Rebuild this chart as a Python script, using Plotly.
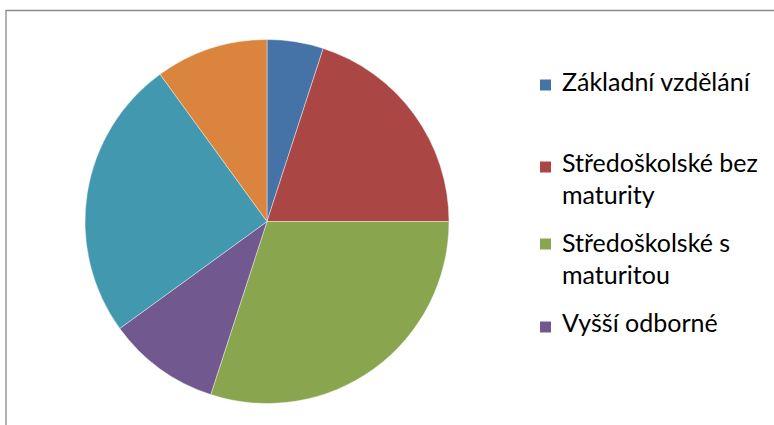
import plotly.graph_objects as go

# ---- data ----
labels = ["Základní vzdělání", "Středoškolské bez maturity", "Středoškolské s maturitou",
          "Vyšší odborné", "Vysokoškolské", "Jiné"]
values = [5, 20, 30, 10, 25, 10]
colors = ["#4572A7", "#AA4643", "#89A54E", "#71588F", "#4198AF", "#DB843D"]
legend_lines = [["Základní vzdělání"], ["Středoškolské bez", "maturity"],
                ["Středoškolské s", "maturitou"], ["Vyšší odborné"]]

W, H = 774, 425
cx, cy, r = 267, 221.5, 182

fig = go.Figure(go.Pie(
    labels=labels, values=values, sort=False, direction="clockwise", rotation=0,
    marker=dict(colors=colors, line=dict(color="rgba(255,255,255,0.6)", width=0.7)),
    textinfo="none", showlegend=False,
    domain=dict(x=[(cx - r) / W, (cx + r) / W], y=[1 - (cy + r) / H, 1 - (cy - r) / H]),
))

shapes = [dict(type="rect", xref="paper", yref="paper",
               x0=6 / W, x1=1.05, y0=-0.05, y1=1 - 10.5 / H,
               line=dict(color="#8a8a8a", width=1.3), fillcolor="rgba(0,0,0,0)", layer="below")]
annotations = []
# legend layout (pixel positions of each entry's first line center)
entry_y = [84, 165, 245, 325]
sq_y = [85, 167, 244, 327]
line_gap = 32
font = dict(family="Lato, Open Sans, sans-serif", size=25, color="#000000")
for i, lines in enumerate(legend_lines):
    y0 = entry_y[i] - 3
    ys = sq_y[i]
    shapes.append(dict(type="rect", xref="paper", yref="paper",
                       x0=540 / W, x1=551 / W,
                       y0=1 - (ys + 5.5) / H, y1=1 - (ys - 5.5) / H,
                       fillcolor=colors[i], line=dict(width=0)))
    for j, t in enumerate(lines):
        annotations.append(dict(text=t, xref="paper", yref="paper", x=560 / W,
                                y=1 - (y0 + j * line_gap) / H, xanchor="left", yanchor="middle",
                                showarrow=False, font=font))

fig.update_layout(width=W, height=H, margin=dict(l=0, r=0, t=0, b=0),
                  paper_bgcolor="white", plot_bgcolor="white",
                  shapes=shapes, annotations=annotations)
fig.write_html("out.html", config={"displayModeBar": False},
               post_script="document.body.style.margin='0';")
